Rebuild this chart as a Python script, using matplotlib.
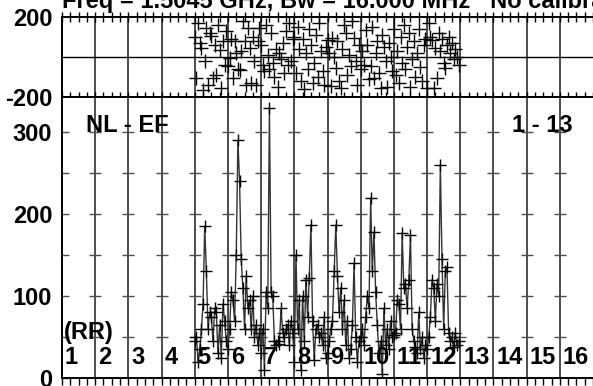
import numpy as np
import matplotlib
matplotlib.use("Agg")
import matplotlib.pyplot as plt

plt.rcParams["font.family"] = ["Liberation Sans", "DejaVu Sans"]
plt.rcParams["font.weight"] = "bold"

TITLE = "Freq = 1.5045 GHz, Bw = 16.000 MHz   No calibration"
BASELINE_NAME = "NL - EF"
RANGE_NAME = "1 - 13"
BIN_LABELS = [str(i) for i in range(1, 17)]

# amplitude per channel, 20 channels per bin (bins 5..12)
amp_5 = [45, 50, 20, 35, 60, 90, 185, 130, 60, 80, 75, 45, 85, 80, 30, 65, 25, 90, 70, 45]
amp_6 = [35, 60, 105, 95, 70, 150, 290, 240, 145, 110, 60, 125, 85, 95, 60, 100, 50, 65, 40, 55]
amp_7 = [30, 60, 10, 105, 85, 330, 105, 100, 45, 40, 45, 42, 85, 55, 50, 60, 65, 40, 70, 55]
amp_8 = [20, 150, 60, 95, 10, 100, 45, 120, 75, 122, 187, 70, 22, 60, 65, 50, 55, 40, 75, 25]
amp_9 = [30, 45, 60, 70, 130, 187, 125, 80, 110, 60, 95, 40, 70, 25, 35, 65, 140, 50, 20, 45]
amp_10 = [50, 60, 40, 75, 100, 85, 220, 130, 178, 105, 65, 30, 45, 5, 85, 40, 60, 35, 70, 50]
amp_11 = [52, 55, 95, 90, 60, 177, 110, 115, 85, 120, 175, 60, 45, 38, 30, 80, 35, 50, 25, 40]
amp_12 = [35, 50, 75, 120, 110, 70, 115, 100, 260, 145, 60, 130, 135, 55, 45, 50, 38, 55, 40, 45]

# phase per channel (deg)
ph_5 = [100, -105, 170, 70, 45, -165, -20, 145, -140, 120, 105, -105, 60, -90, 160, 35, -155, 80, -40, 130]
ph_6 = [-45, -5, 90, -105, 80, 20, -60, -65, 30, 180, 80, -140, 145, 45, -130, 100, -20, -140, 80, 145]
ph_7 = [60, -40, -70, 160, 10, -60, 120, -30, -100, 40, -150, 20, -10, 70, -80, 130, -40, 170, -20, 90]
ph_8 = [100, -80, 150, 40, -120, 90, -160, 20, -60, 140, 60, -130, -30, 110, -100, 170, 30, -70, -140, 50]
ph_9 = [85, 20, -145, 95, 0, -55, 80, -120, -155, 40, 160, 120, -90, 10, -45, 180, 95, -20, -140, 60]
ph_10 = [-60, 30, -40, 135, 60, -110, -45, 150, -105, 20, 80, -80, -155, 110, 50, -20, -150, 70, 0, -70]
ph_11 = [140, -90, 30, -130, 100, -30, 160, -60, 50, 120, -150, -10, 80, -100, 20, 140, -50, -120, 60, 90]
ph_12 = [-155, 170, 100, 85, -155, 45, -105, 120, 30, 90, -30, -55, 60, 100, 20, 70, -10, 40, 0, -40]

amplitude = amp_5 + amp_6 + amp_7 + amp_8 + amp_9 + amp_10 + amp_11 + amp_12
phase = ph_5 + ph_6 + ph_7 + ph_8 + ph_9 + ph_10 + ph_11 + ph_12
chan = 5 + np.arange(len(amplitude)) / 20.0

GRID = "#4d4d4d"
FS = 17

fig = plt.figure(figsize=(5.93, 3.86), dpi=100)
left = 62 / 593
ax_top = fig.add_axes([left, 1 - 97 / 386, 1 - left, 80 / 386])
ax_bot = fig.add_axes([left, 1 - 378 / 386, 1 - left, 281 / 386])

bins = np.arange(1, 18)

for ax in (ax_top, ax_bot):
    ax.set_xlim(1, 17)
    for b in bins[1:-1]:
        ax.axvline(b, color=GRID, lw=1.4, zorder=1)
    ax.spines["right"].set_visible(False)
    for s in ("left", "top", "bottom"):
        ax.spines[s].set_linewidth(1.4)
    ax.set_xticks(bins)
    ax.set_xticks(np.arange(1, 17, 0.25), minor=True)
    ax.set_xticklabels([])

# phase panel
ax_top.set_ylim(-200, 200)
ax_top.axhline(0, color="black", lw=1.0, zorder=1)
ax_top.plot(chan, phase, ls="none", marker="+", ms=10, mew=1.0, color="black", zorder=3)
ax_top.set_yticks([-200, 200])
ax_top.set_yticklabels(["-200", "200"], fontsize=FS, fontweight="bold")
ax_top.tick_params(axis="y", length=0, pad=7)
ax_top.tick_params(axis="x", which="both", top=True, bottom=True, direction="inout", length=7, width=1)

# amplitude panel
ax_bot.set_ylim(0, 343)
ax_bot.set_yticks([0, 100, 200, 300])
ax_bot.set_yticklabels(["0", "100", "200", "300"], fontsize=FS, fontweight="bold")
ax_bot.set_yticks(np.arange(50, 340, 50), minor=True)
ax_bot.tick_params(axis="y", which="both", direction="in", length=5, width=1, color=GRID, pad=7)
ax_bot.tick_params(axis="x", which="both", top=False, bottom=True, direction="out", length=5, width=1)

# small crosses where the y ticks meet each bin line
for yv in np.arange(50, 340, 50):
    ax_bot.plot(bins[1:-1], [yv] * len(bins[1:-1]), ls="none", marker="_", ms=9, mew=1.0, color=GRID, zorder=1)

ax_bot.plot(chan, amplitude, color="#333333", lw=1.0, zorder=2)
ax_bot.plot(chan, amplitude, ls="none", marker="+", ms=9, mew=1.0, color="black", zorder=3)

ax_bot.text(1.72, 300, BASELINE_NAME, fontsize=FS, fontweight="bold", va="baseline")
ax_bot.text(14.56, 300, RANGE_NAME, fontsize=FS, fontweight="bold", va="baseline")
ax_bot.text(1.06, 48, "(RR)", fontsize=FS, fontweight="bold", va="baseline")
for b, lab in zip(bins[:-1], BIN_LABELS):
    ax_bot.text(b + 0.09, 17, lab, fontsize=FS, fontweight="bold", va="baseline")

fig.text(left, 1 - 8 / 386, TITLE, fontsize=FS, fontweight="bold", va="baseline", ha="left")

plt.savefig("out.png", dpi=100)
